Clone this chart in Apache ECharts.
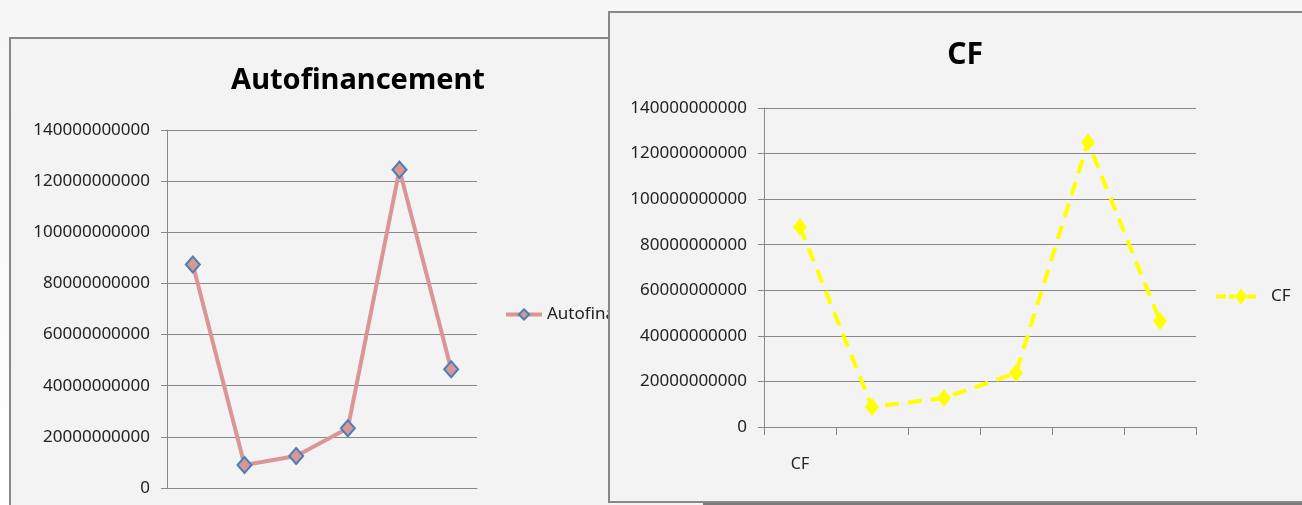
<!DOCTYPE html>
<html>
<head>
<meta charset="utf-8">
<title>Autofinancement / CF</title>
<script src="https://cdn.jsdelivr.net/npm/echarts@6/dist/echarts.min.js"></script>
<style>
  body { margin: 0; width: 1302px; height: 505px; overflow: hidden; position: relative;
         background: linear-gradient(#f7f7f7, #ffffff); }
  .panel { position: absolute; border: 2px solid #888; background: #f3f3f3; box-sizing: border-box; }
  #left { left: 9px; top: 37px; width: 760px; height: 520px; }
  #right { left: 608px; top: 11px; width: 720px; height: 492px; }
  #shade { position: absolute; left: 703px; top: 503px; width: 620px; height: 3px; background: #7a7a7a; }
</style>
</head>
<body>
<div class="panel" id="left"></div>
<div id="shade"></div>
<div class="panel" id="right"></div>
<script>
// values (same figures in both charts)
var categories = ['CF', '', '', '', '', ''];
var autofinancement = [87400000000, 9000000000, 12500000000, 23400000000, 124500000000, 46400000000];
var cf = [87800000000, 8800000000, 12700000000, 23700000000, 125000000000, 46500000000];
var yTicks = { min: 0, max: 140000000000, interval: 20000000000 };

var font = 'Noto Sans';

function yAxis() {
  return {
    type: 'value', min: yTicks.min, max: yTicks.max, interval: yTicks.interval,
    axisLine: { show: true, lineStyle: { color: '#888' } },
    axisTick: { show: true, length: 6, lineStyle: { color: '#888' } },
    splitLine: { lineStyle: { color: '#888', width: 1 } },
    axisLabel: { color: '#222', fontFamily: font, fontSize: 17, margin: 17,
                 formatter: function (v) { return String(v); } }
  };
}

function xAxis(ticks) {
  return {
    type: 'category', data: categories, boundaryGap: true,
    axisLine: { lineStyle: { color: '#888' } },
    axisTick: { show: ticks, length: 8, lineStyle: { color: '#888' } },
    axisLabel: { color: '#222', fontFamily: font, fontSize: 16, margin: 29, interval: 0 }
  };
}

// left chart: Autofinancement
var left = echarts.init(document.getElementById('left'));
left.setOption({
  animation: false,
  title: { text: 'Autofinancement', left: 342, top: 22, textAlign: 'center',
           textStyle: { fontFamily: font, fontWeight: 'bold', fontSize: 29, color: '#000' } },
  legend: { left: 488, top: 262, itemWidth: 36, itemHeight: 13, itemGap: 3,
            lineStyle: { width: 4 },
            textStyle: { fontFamily: font, fontSize: 17, color: '#222' },
            data: ['Autofinancement'] },
  grid: { left: 156, top: 91, width: 310, height: 358 },
  xAxis: xAxis(false),
  yAxis: yAxis(),
  series: [{
    name: 'Autofinancement', type: 'line', data: autofinancement,
    symbol: 'diamond', symbolSize: [14, 16],
    lineStyle: { color: '#d99694', width: 4 },
    itemStyle: { color: '#d99694', borderColor: '#4a7ebb', borderWidth: 2 }
  }]
});

// right chart: CF  (legend icon = dashed line with a diamond, like the series)
var right = echarts.init(document.getElementById('right'));
right.setOption({
  animation: false,
  title: { text: 'CF', left: 350, top: 22, textAlign: 'center',
           textStyle: { fontFamily: font, fontWeight: 'bold', fontSize: 30, color: '#000' } },
  legend: { left: 601, top: 270, itemWidth: 40, itemHeight: 16,
            icon: 'path://M0 6h10v4h-10zM13 6h6v4h-6zM25 0L31 8L25 16L19 8zM31 6h9v4h-9z',
            textStyle: { fontFamily: font, fontSize: 17, color: '#222', padding: [0, 0, 0, 10] },
            data: ['CF'] },
  grid: { left: 154, top: 95, width: 432, height: 319 },
  xAxis: xAxis(true),
  yAxis: yAxis(),
  series: [{
    name: 'CF', type: 'line', data: cf,
    symbol: 'diamond', symbolSize: [14, 18],
    lineStyle: { color: '#ffff00', width: 4, type: [14, 9] },
    itemStyle: { color: '#ffff00' }
  }]
});
</script>
</body>
</html>
